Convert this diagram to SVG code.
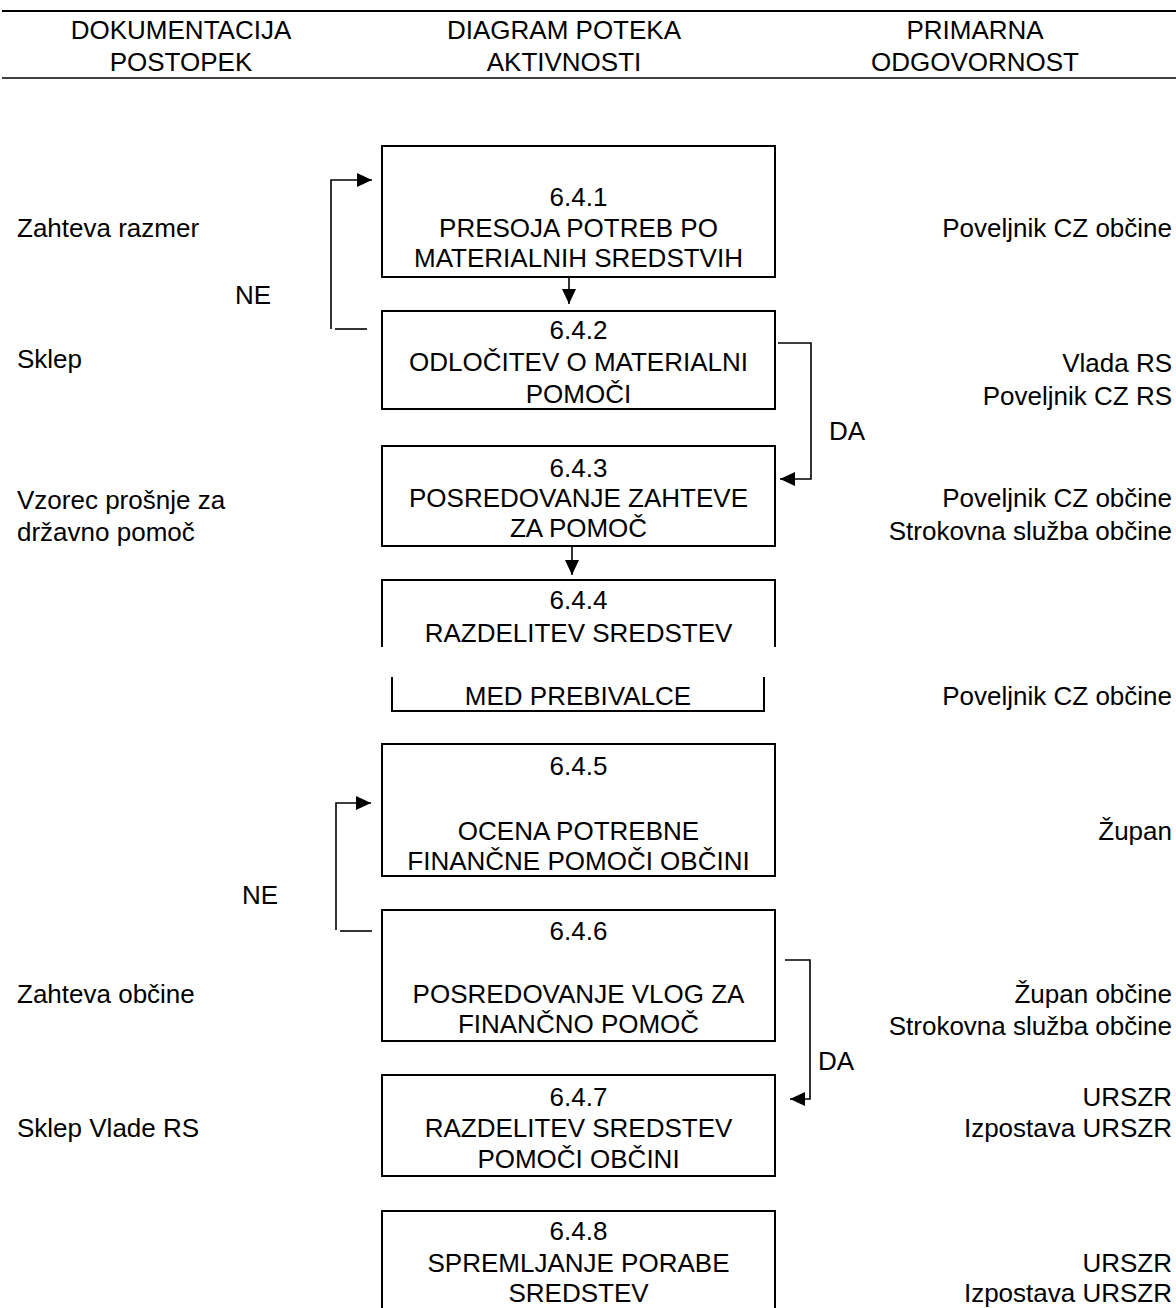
<svg xmlns="http://www.w3.org/2000/svg" width="1176" height="1308" viewBox="0 0 1176 1308">
<style>
text{font-family:"Liberation Sans",Arial,sans-serif;font-size:26px;fill:#000}
.c{text-anchor:middle}
.r{text-anchor:end}
.box{fill:none;stroke:#000;stroke-width:2}
.ln{fill:none;stroke:#000;stroke-width:1.6}
</style>
<defs>
<marker id="ah" markerUnits="userSpaceOnUse" markerWidth="16" markerHeight="14" refX="15" refY="7" orient="auto">
<path d="M0,0 L15,7 L0,14 Z" fill="#000"/>
</marker>
</defs>
<g id="header">
<line x1="2" y1="11" x2="1176" y2="11" stroke="#000" stroke-width="2.2"/>
<line x1="2" y1="78" x2="1176" y2="78" stroke="#000" stroke-width="1.6"/>
<text class="c" x="181" y="39">DOKUMENTACIJA</text>
<text class="c" x="181" y="71">POSTOPEK</text>
<text class="c" x="564" y="39">DIAGRAM POTEKA</text>
<text class="c" x="564" y="71">AKTIVNOSTI</text>
<text class="c" x="975" y="39">PRIMARNA</text>
<text class="c" x="975" y="71">ODGOVORNOST</text>
</g>
<g id="docs">
<text x="17" y="237">Zahteva razmer</text>
<text x="17" y="368">Sklep</text>
<text x="17" y="509">Vzorec prošnje za</text>
<text x="17" y="541">državno pomoč</text>
<text x="17" y="1003">Zahteva občine</text>
<text x="17" y="1137">Sklep Vlade RS</text>
</g>
<g id="resp">
<text class="r" x="1172" y="237">Poveljnik CZ občine</text>
<text class="r" x="1172" y="372">Vlada RS</text>
<text class="r" x="1172" y="405">Poveljnik CZ RS</text>
<text class="r" x="1172" y="507">Poveljnik CZ občine</text>
<text class="r" x="1172" y="540">Strokovna služba občine</text>
<text class="r" x="1172" y="705">Poveljnik CZ občine</text>
<text class="r" x="1172" y="840">Župan</text>
<text class="r" x="1172" y="1003">Župan občine</text>
<text class="r" x="1172" y="1035">Strokovna služba občine</text>
<text class="r" x="1172" y="1106">URSZR</text>
<text class="r" x="1172" y="1137">Izpostava URSZR</text>
<text class="r" x="1172" y="1272">URSZR</text>
<text class="r" x="1172" y="1302">Izpostava URSZR</text>
</g>
<g id="n641">
<rect class="box" x="382" y="146" width="393" height="131"/>
<text class="c" x="578.5" y="206">6.4.1</text>
<text class="c" x="578.5" y="237">PRESOJA POTREB PO</text>
<text class="c" x="578.5" y="267">MATERIALNIH SREDSTVIH</text>
</g>
<g id="n642">
<rect class="box" x="382" y="311" width="393" height="98"/>
<text class="c" x="578.5" y="339">6.4.2</text>
<text class="c" x="578.5" y="371">ODLOČITEV O MATERIALNI</text>
<text class="c" x="578.5" y="403">POMOČI</text>
</g>
<g id="n643">
<rect class="box" x="382" y="446" width="393" height="100"/>
<text class="c" x="578.5" y="477">6.4.3</text>
<text class="c" x="578.5" y="507">POSREDOVANJE ZAHTEVE</text>
<text class="c" x="578.5" y="537">ZA POMOČ</text>
</g>
<g id="n644">
<path class="box" d="M382,647 V580 H775 V647"/>
<text class="c" x="578.5" y="609">6.4.4</text>
<text class="c" x="578.5" y="642">RAZDELITEV SREDSTEV</text>
<path class="box" d="M392,677 V711 H764 V677"/>
<text class="c" x="578" y="705">MED PREBIVALCE</text>
</g>
<g id="n645">
<rect class="box" x="382" y="744" width="393" height="132"/>
<text class="c" x="578.5" y="775">6.4.5</text>
<text class="c" x="578.5" y="840">OCENA POTREBNE</text>
<text class="c" x="578.5" y="870">FINANČNE POMOČI OBČINI</text>
</g>
<g id="n646">
<rect class="box" x="382" y="910" width="393" height="131"/>
<text class="c" x="578.5" y="940">6.4.6</text>
<text class="c" x="578.5" y="1003">POSREDOVANJE VLOG ZA</text>
<text class="c" x="578.5" y="1033">FINANČNO POMOČ</text>
</g>
<g id="n647">
<rect class="box" x="382" y="1075" width="393" height="101"/>
<text class="c" x="578.5" y="1106">6.4.7</text>
<text class="c" x="578.5" y="1137">RAZDELITEV SREDSTEV</text>
<text class="c" x="578.5" y="1168">POMOČI OBČINI</text>
</g>
<g id="n648">
<rect class="box" x="382" y="1211" width="393" height="110"/>
<text class="c" x="578.5" y="1240">6.4.8</text>
<text class="c" x="578.5" y="1272">SPREMLJANJE PORABE</text>
<text class="c" x="578.5" y="1302">SREDSTEV</text>
</g>
<g id="connectors">
<line class="ln" x1="569" y1="277" x2="569" y2="304" marker-end="url(#ah)"/>
<line class="ln" x1="572" y1="546" x2="572" y2="575" marker-end="url(#ah)"/>
<line class="ln" x1="335" y1="329" x2="367" y2="329"/>
<path class="ln" d="M331,329 V180 H372" marker-end="url(#ah)"/>
<path class="ln" d="M778,343 H811 V479 H780" marker-end="url(#ah)"/>
<line class="ln" x1="340" y1="931" x2="372" y2="931"/>
<path class="ln" d="M336,930 V803 H371" marker-end="url(#ah)"/>
<path class="ln" d="M785,960 H810 V1099 H790" marker-end="url(#ah)"/>
<text x="235" y="304">NE</text>
<text x="242" y="904">NE</text>
<text x="829" y="440">DA</text>
<text x="818" y="1070">DA</text>
</g>
</svg>
